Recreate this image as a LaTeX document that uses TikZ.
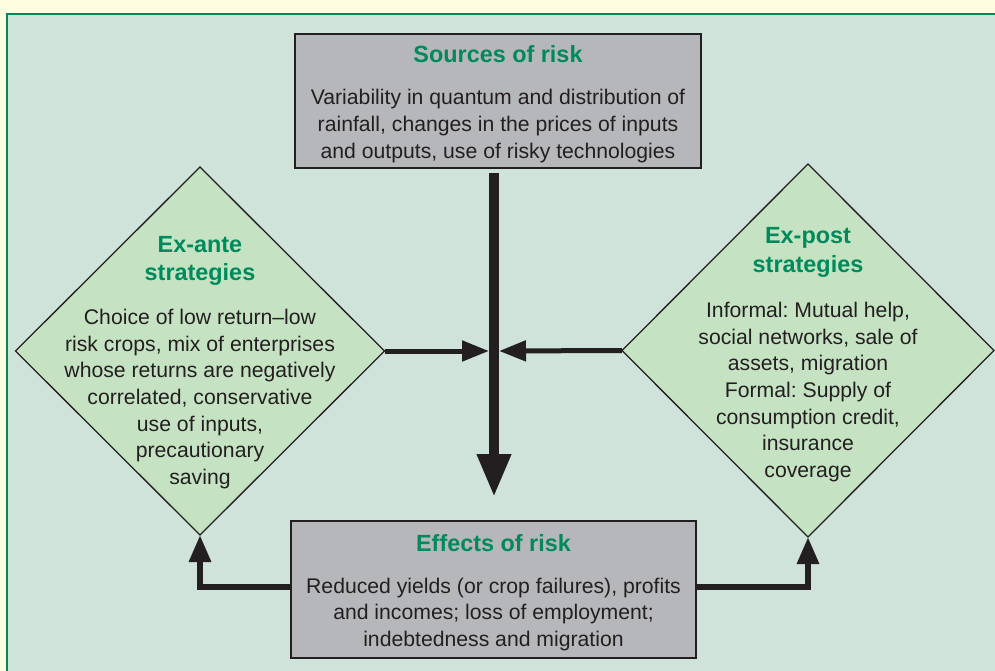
\documentclass[tikz,border=0pt]{standalone}
\usepackage{fontspec}
\setmainfont{Liberation Sans}
\usetikzlibrary{shapes.geometric,arrows.meta}
\frenchspacing

\definecolor{paper}{RGB}{255,252,224}
\definecolor{panel}{RGB}{207,227,218}
\definecolor{frame}{RGB}{0,135,90}
\definecolor{boxgray}{RGB}{182,183,187}
\definecolor{leaf}{RGB}{197,227,195}
\definecolor{heading}{RGB}{0,138,92}
\definecolor{ink}{RGB}{35,31,32}

\begin{document}
\begin{tikzpicture}[x=1pt, y=-1pt,
  box/.style={draw=ink, line width=2.5pt, fill=boxgray, minimum width=406pt, minimum height=134pt, inner sep=0pt},
  strategy/.style={diamond, draw=ink, line width=1.3pt, fill=leaf, inner sep=0pt, outer sep=0pt},
  head/.style={text=heading, font=\fontsize{23.4}{28.5}\selectfont\bfseries, align=center},
  body/.style={text=ink, font=\fontsize{21.2}{26.7}\selectfont, align=center},
  flow/.style={draw=ink, line width=10pt, -{Triangle[length=43pt,width=32pt]}},
  push/.style={draw=ink, line width=5pt, -{Triangle[length=27pt,width=20pt]}},
  feedback/.style={draw=ink, line width=6pt, -{Triangle[length=27pt,width=21pt]}}]

  \useasboundingbox (0,0) rectangle (995,671);
  \fill[paper] (0,0) rectangle (995,671);
  \draw[frame, fill=panel, line width=2pt] (7,14) rectangle (1010,690);

  % sources and effects
  \node[box] (src) at (498,101) {};
  \node[head] (srchead) at (498,54) {Sources of risk};
  \node[body] (srcbody) at (498,126) {Variability in quantum and distribution of\\rainfall, changes in the prices of inputs\\and outputs, use of risky technologies};

  \node[box, minimum width=405pt, minimum height=137pt] (eff) at (493.5,589.5) {};
  \node[head] (effhead) at (493.5,543) {Effects of risk};
  \node[body] (effbody) at (493.5,614.5) {Reduced yields (or crop failures), profits\\and incomes; loss of employment;\\indebtedness and migration};

  % the two kinds of strategy
  \node[strategy, minimum width=369pt, minimum height=368pt] (exante) at (200,351) {};
  \node[head] (exantehead) at (200,261) {Ex-ante\\strategies};
  \node[body] (exantebody) at (200,399) {Choice of low return–low\\risk crops, mix of enterprises\\whose returns are negatively\\correlated, conservative\\use of inputs,\\precautionary\\saving};

  \node[strategy, minimum width=372pt, minimum height=373pt] (expost) at (808,350.5) {};
  \node[head] (exposthead) at (808,252.5) {Ex-post\\strategies};
  \node[body] (expostbody) at (808,392) {Informal: Mutual help,\\social networks, sale of\\assets, migration\\Formal: Supply of\\consumption credit,\\insurance\\coverage};

  \coordinate (hub) at (494,351);

  \draw[flow, shorten <=3.75pt, shorten >=22.75pt] (src.south -| hub) -- (eff.north -| hub);
  \draw[push] (exante.east) -- ([xshift=-5pt]hub);
  \draw[push] (expost.west) -- ([xshift=5pt]hub);
  \draw[feedback] ([yshift=2.5pt]eff.west) -| (exante.south);
  \draw[feedback] ([yshift=2.5pt]eff.east) -| (expost.south);
\end{tikzpicture}
\end{document}
